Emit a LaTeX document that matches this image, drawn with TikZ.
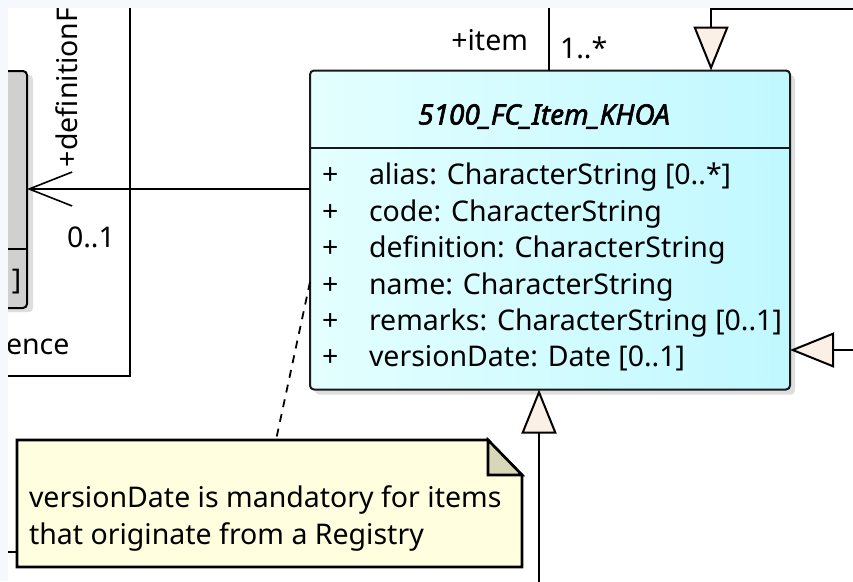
\documentclass[tikz,border=0pt]{standalone}
\usepackage{fontspec}
\setmainfont{Noto Sans}
\newfontfamily\titlefont{Noto Sans}[FakeBold=2.2]
\usetikzlibrary{
	positioning,   %relative placement
	calc,          %coordinate calculation
	arrows.meta,   %arrow tips
	shadows        %drop shadows
}
\definecolor{sidebg}{RGB}{245,248,252}
\definecolor{clsleft}{RGB}{228,255,255}
\definecolor{clsright}{RGB}{192,248,255}
\definecolor{notefill}{RGB}{255,255,224}
\definecolor{notefold}{RGB}{216,216,184}
\definecolor{genfill}{RGB}{250,240,230}
\definecolor{shadowgray}{RGB}{222,222,222}
\definecolor{refgray}{RGB}{208,208,208}
\tikzset{
	every picture/.style={
		x=1pt,y=-1pt,
		>=latex
}}
\tikzset{
	umlfont/.style={font=\fontsize{28.5}{36.5}\selectfont},
	lbl/.style={umlfont, inner sep=0pt, outer sep=0pt},
	conn/.style={line width=2pt},
	gen/.style={conn, -{Triangle[length=44pt,width=35pt,fill=genfill]}},
	nav/.style={conn, -{Straight Barb[length=43pt,width=34pt,line width=1.6pt]}},
	classbox/.style={rectangle, draw=black!90, line width=2pt, rounded corners=4pt,
		left color=clsleft, right color=clsright, inner sep=0pt, outer sep=0pt,
		drop shadow={shadow xshift=5pt, shadow yshift=-5pt, fill=shadowgray, opacity=1}},
	refbox/.style={rectangle, draw, line width=2pt, rounded corners=4pt, fill=refgray,
		inner sep=0pt, outer sep=0pt,
		drop shadow={shadow xshift=6pt, shadow yshift=-4pt, fill=shadowgray, opacity=1}}
}

\begin{document}
\begin{tikzpicture}
\useasboundingbox (0,0) rectangle (853,581);
\fill[sidebg] (0,0) rectangle (853,581);
\fill[white] (8,8) rectangle (853,581);
\begin{scope}
\clip (8,8) rectangle (853,581);

% frame and the element on the left
\node[rectangle, draw, line width=2pt, inner sep=0pt, outer sep=0pt,
	minimum width=300pt, minimum height=500pt, anchor=south east] (frame) at (129.5,376) {};
\node[refbox, minimum width=100pt, minimum height=237pt, anchor=north east] (ref) at (27,71) {};
\draw[line width=2pt] (ref.west |- 0,249) -- (ref.east |- 0,249);
\node[lbl, anchor=base west] (refattr) at (12,289) {]};
\node[lbl, anchor=base west] (refrole) at (6,354) {ence};

% class
\node[classbox, minimum width=480pt, minimum height=319pt, anchor=north west] (item) at (310,70.5) {};
\draw[line width=2pt, black!90] ($(item.north west)+(0,77)$) -- ($(item.north east)+(0,77)$);
\node[lbl, font=\fontsize{28}{36}\titlefont\itshape, anchor=base] (title) at ($(item.north)+(-6,54)$) {5100\_FC\_Item\_KHOA};
\foreach \attr [count=\i] in {{alias: CharacterString [0..*]}, {code: CharacterString},
	{definition: CharacterString}, {name: CharacterString},
	{remarks: CharacterString [0..1]}, {versionDate: Date [0..1]}}
{
	\node[lbl, anchor=base west] (vis\i) at ($(item.north west)+(12,78+36.4*\i)$) {+};
	\node[lbl, anchor=base west] (attr\i) at ($(item.north west)+(59,78+36.4*\i)$) {\attr};
}

% note
\node[rectangle, inner sep=0pt, outer sep=0pt, minimum width=505pt, minimum height=127pt,
	anchor=north west] (note) at (17,440) {};
\begin{scope}[shift={(7,7)}]
\fill[shadowgray] (note.north west) -- ($(note.north east)+(-34,0)$) -- ($(note.north east)+(0,35)$)
	-- (note.south east) -- (note.south west) -- cycle;
\end{scope}
\filldraw[fill=notefill, line width=2.6pt] (note.north west) -- ($(note.north east)+(-34,0)$)
	-- ($(note.north east)+(0,35)$) -- (note.south east) -- (note.south west) -- cycle;
\filldraw[fill=notefold, line width=2.6pt] ($(note.north east)+(-34,0)$) -- ($(note.north east)+(-34,35)$)
	-- ($(note.north east)+(0,35)$) -- cycle;
\node[lbl, align=left, anchor=base west] (notetext) at ($(note.north west)+(12,104)$)
	{versionDate is mandatory for items\\that originate from a Registry};

% connectors
\coordinate (itemTop) at (549,0);
\coordinate (genTop) at (870,9);
\coordinate (genRight) at (870,350);
\coordinate (genBottom) at (539,600);
\coordinate (navY) at (0,189);
\coordinate (noteIn) at (0,552);
\draw[conn] (itemTop) -- (item.north -| itemTop);
\draw[gen] (genTop) -| (item.north -| 711,0);
\draw[gen] (genRight) -- (item.east |- genRight);
\draw[gen] (genBottom) -- (item.south -| genBottom);
\draw[nav] (item.west |- navY) -- (ref.east |- navY);
\draw[line width=1.8pt, dash pattern=on 8pt off 7pt] (item.west |- 0,282) -- (note.north -| 276,0);
\draw[line width=2pt] (noteIn) -- (note.west |- noteIn);

% role names and multiplicities
\node[lbl, anchor=base east] (itemrole) at (528,50) {+item};
\node[lbl, anchor=base west] (itemmult) at (560,58) {1..*};
\node[lbl, rotate=90, anchor=base west] (defrole) at (77,167) {+definitionF};
\node[lbl, anchor=base west] (defmult) at (67,247) {0..1};
\end{scope}
\end{tikzpicture}
\end{document}
